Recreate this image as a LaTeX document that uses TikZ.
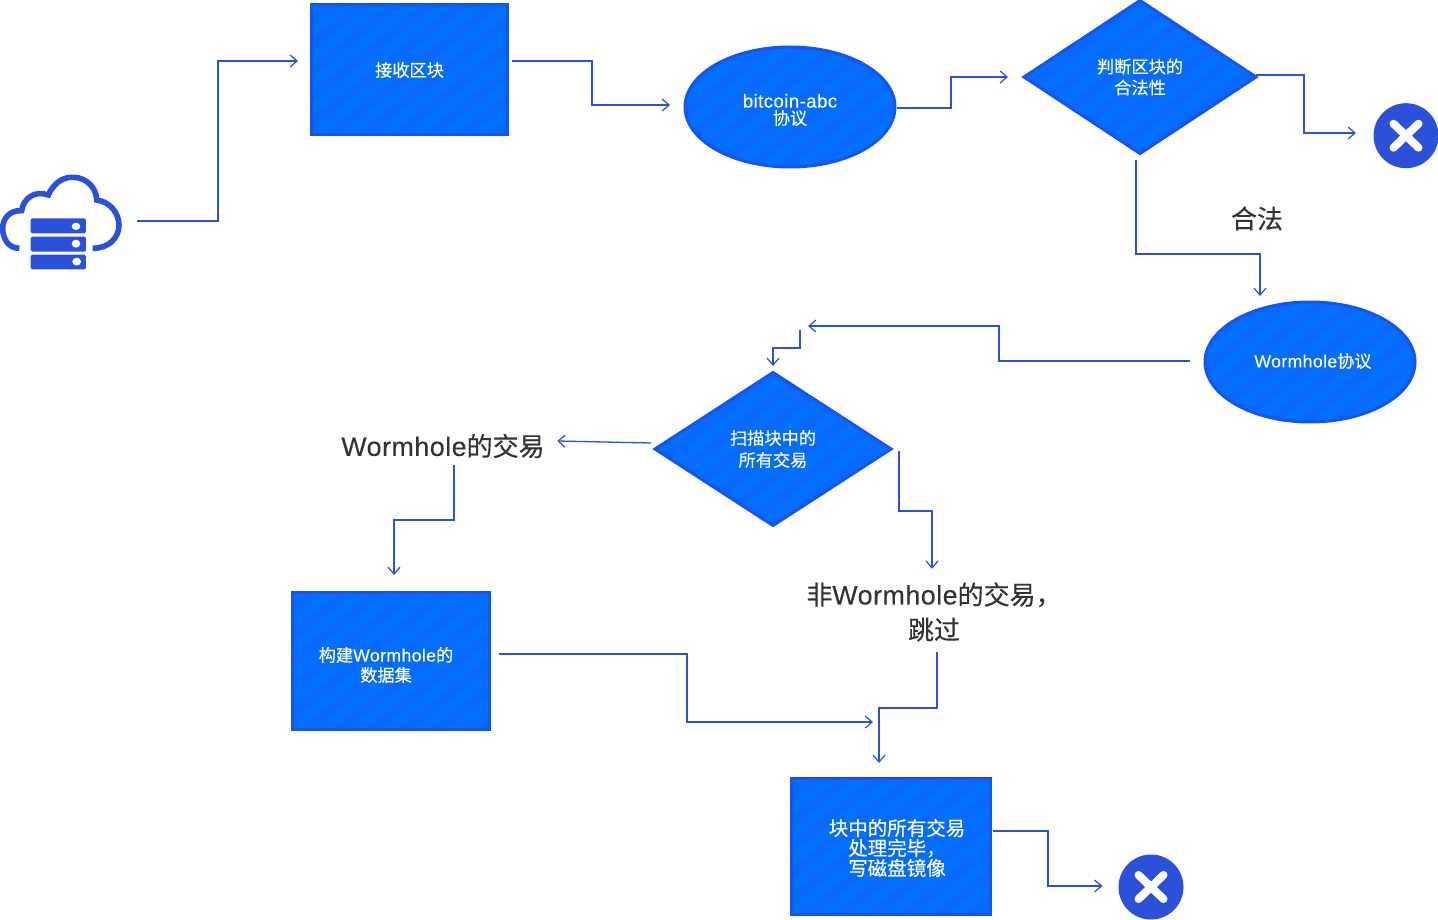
\documentclass[tikz,border=0pt]{standalone}
\usepackage{fontspec}
\setmainfont[FakeBold=0.3]{Noto Sans CJK SC}
\newfontfamily\lat[Scale=1.03,LetterSpace=2,FakeBold=0.2]{Liberation Sans}
\usetikzlibrary{shapes.geometric,arrows.meta}
\definecolor{fillblue}{HTML}{0470FF}
\definecolor{stripeblue}{HTML}{0969FC}
\definecolor{edgeblue}{HTML}{1454F6}
\definecolor{linkblue}{HTML}{2B50DA}
\definecolor{textdark}{HTML}{333333}
\tikzset{
  x=1pt,y=-1pt,
  shapebase/.style={fill=fillblue,draw=edgeblue,line width=3pt,text=white,inner sep=0pt,outer sep=0pt,align=center,font=\fontsize{17.2}{20}\selectfont,
    path picture={
      \foreach \o in {-360,-327,...,360}{
        \draw[stripeblue,line width=9pt] ([shift={(\o,0)}]path picture bounding box.center) ++(-240,190) -- ++(480,-380);
      }
    }},
  boxshape/.style={shapebase,rectangle},
  ellshape/.style={shapebase,ellipse,minimum width=210pt,minimum height=120pt},
  diashape/.style={shapebase,diamond},
  labeltext/.style={text=white,align=center,inner sep=0pt,font=\fontsize{17.2}{20}\selectfont},
  conn/.style={draw=linkblue,line width=1.3pt,-{Straight Barb[length=7pt,width=12pt,line width=1.2pt]}},
  plaintext/.style={text=textdark,inner sep=0pt,align=center,font=\fontsize{26}{35}\selectfont},
  crossdisc/.style={circle,fill=linkblue,inner sep=0pt,outer sep=0pt,minimum size=65pt},
  crossbar/.style={draw=white,line width=8pt,line cap=round},
}
\begin{document}
\begin{tikzpicture}
\useasboundingbox (0,0) rectangle (1438,920);
% cloud icon
\node[minimum width=122pt,minimum height=95pt,inner sep=0pt] (cloud) at (60,222) {};
\begin{scope}[shift={(0,160)},x=0.3333pt,y=-0.3333pt]
  \draw[linkblue,line width=5.6pt] (58,265) .. controls (25,265) and (8,235) .. (8,205)
    .. controls (8,175) and (30,150) .. (65,152)
    .. controls (70,115) and (105,90) .. (145,105)
    .. controls (160,70) and (190,50) .. (220,52)
    .. controls (260,52) and (290,85) .. (290,120)
    .. controls (330,125) and (357,160) .. (357,195)
    .. controls (357,235) and (325,265) .. (278,265);
  \fill[linkblue,rounded corners=1.5pt] (92,175) rectangle (258,220);
  \fill[linkblue,rounded corners=1.5pt] (92,230) rectangle (258,275);
  \fill[linkblue,rounded corners=1.5pt] (92,284) rectangle (258,328);
  \fill[white] (228,199) ellipse [x radius=13,y radius=11];
  \fill[white] (228,251) ellipse [x radius=13,y radius=12];
  \fill[white] (230,305) ellipse [x radius=13,y radius=12];
\end{scope}
% shapes
\node[boxshape,minimum width=196pt,minimum height=130pt] (a) at (409.5,70) {接收区块};
\node[ellshape] (b) at (790,107) {};
\node[labeltext,font=\fontsize{17.2}{17}\selectfont] (btext) at (790,110) {{\fontsize{18.2}{17}\selectfont\lat bitcoin-abc}\\协议};
\node[diashape,minimum width=232pt,minimum height=153pt,font=\fontsize{17.2}{21}\selectfont] (c) at (1140,77) {判断区块的\\合法性};
\node[crossdisc] (x1) at (1406,135.7) {};
\draw[crossbar] ([shift={(-12.5,-12)}]x1.center) -- ([shift={(12.5,12)}]x1.center);
\draw[crossbar] ([shift={(-12.5,12)}]x1.center) -- ([shift={(12.5,-12)}]x1.center);
\node[plaintext] (legal) at (1257,218.5) {合法};
\node[ellshape] (d) at (1310,362) {};
\node[labeltext] (dtext) at (1313,361) {{\lat Wormhole}协议};
\coordinate (p) at (808,326);
\coordinate (q) at (800,330);
\node[diashape,minimum width=236pt,minimum height=153pt,font=\fontsize{17.2}{22}\selectfont] (e) at (773,449) {扫描块中的\\所有交易};
\node[plaintext,minimum width=204pt,minimum height=32pt] (f) at (443,446) {{\lat Wormhole}的交易};
\node[boxshape,minimum width=197pt,minimum height=137pt] (g) at (390.5,660.5) {};
\node[labeltext] (gtext) at (386,665) {构建{\lat Wormhole}的\\数据集};
\node[plaintext,minimum width=252pt,minimum height=70pt] (h) at (934,612) {非{\lat Wormhole}的交易，\\跳过};
\node[boxshape,minimum width=199pt,minimum height=136pt] (k) at (890.5,846) {};
\node[labeltext,font=\fontsize{19.5}{20}\selectfont] (ktext) at (897,848) {块中的所有交易\\处理完毕，\\写磁盘镜像};
\node[crossdisc] (x2) at (1151,887) {};
\draw[crossbar] ([shift={(-12.5,-12)}]x2.center) -- ([shift={(12.5,12)}]x2.center);
\draw[crossbar] ([shift={(-12.5,12)}]x2.center) -- ([shift={(12.5,-12)}]x2.center);
% connectors
\draw[conn] ([shift={(16,-1)}]cloud.east) -- (218,221) -- (218,61) -- ([shift={(-13.5,-9)}]a.west);
\draw[conn] ([shift={(4.5,-9)}]a.east) -- (592,61) -- (592,105) -- ([shift={(-15,-2)}]b.west);
\draw[conn] ([shift={(2,1)}]b.east) -- (951,108) -- (951,77) -- ([shift={(-16,0)}]c.west);
\draw[conn] ([shift={(0,-2)}]c.east) -- (1304,75) -- (1304,133) -- ([shift={(-17.5,-2.7)}]x1.west);
\draw[conn] ([shift={(-4,6.5)}]c.south) -- (1136,254) -- (1260,254) -- ([shift={(-50,-6)}]d.north);
\draw[conn] ([shift={(-15,-1)}]d.west) -- (999,361) -- (999,326) -- (p);
\draw[conn] (q) -- (800,348) -- (773,348) -- ([shift={(0,-6.5)}]e.north);
\draw[conn] ([shift={(-4,-6)}]e.west) -- ([shift={(12,-5)}]f.east);
\draw[conn] ([shift={(11,3)}]f.south) -- (454,520) -- (394,520) -- ([shift={(3.5,-17)}]g.north);
\draw[conn] ([shift={(8,2)}]e.east) -- (899,511) -- (932,511) -- ([shift={(-2,-8)}]h.north);
\draw[conn] ([shift={(10,-6.5)}]g.east) -- (687,654) -- (687,722) -- ([shift={(-17.5,-56)}]k.north);
\draw[conn] ([shift={(3,5)}]h.south) -- (937,708) -- (879,708) -- ([shift={(-11.5,-15)}]k.north);
\draw[conn] ([shift={(3,-15)}]k.east) -- (1048,831) -- (1048,886) -- ([shift={(-16,-1)}]x2.west);
\end{tikzpicture}
\end{document}
